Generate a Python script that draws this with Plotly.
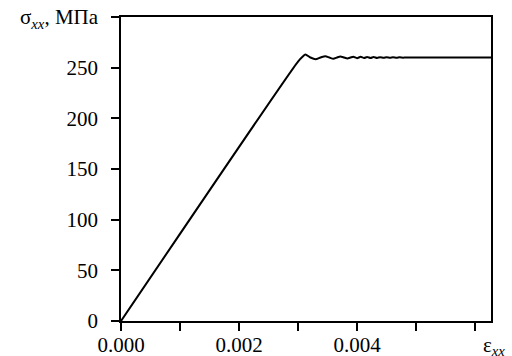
import plotly.graph_objects as go

strain = [0.0, 0.00300, 0.00308, 0.003124, 0.00321, 0.003297, 0.00338, 0.003463,
          0.00353, 0.003598, 0.00366, 0.003717, 0.00378, 0.003836, 0.00389,
          0.003937, 0.00400, 0.00406, 0.00412, 0.00417, 0.00423, 0.00428,
          0.00434, 0.00439, 0.00445, 0.00450, 0.00456, 0.00461, 0.00467,
          0.00472, 0.00478, 0.00482, 0.00627]
stress = [0.0, 256.0, 261.0, 263.0, 260.0, 258.3, 260.0, 261.3,
          260.0, 258.8, 260.0, 261.0, 260.0, 259.1, 260.0,
          260.8, 259.4, 260.7, 259.5, 260.6, 259.6, 260.5,
          259.6, 260.4, 259.7, 260.3, 259.8, 260.2, 259.8,
          260.2, 259.9, 260.0, 260.0]

y_ticks = [0, 50, 100, 150, 200, 250, 300]
y_ticktext = ["0", "50", "100", "150", "200", "250", "σ<sub><i>xx</i></sub>, МПа"]
x_ticks = [0.000, 0.001, 0.002, 0.003, 0.004, 0.005, 0.006]
x_ticktext = ["0.000", "", "0.002", "", "0.004", "", ""]

FONT = "Liberation Serif, serif"
FS = 21

fig = go.Figure()
fig.add_trace(go.Scatter(x=strain, y=stress, mode="lines",
                         line=dict(color="black", width=2, shape="spline", smoothing=0.6),
                         showlegend=False, hoverinfo="skip"))

fig.update_layout(
    template="none",
    width=512, height=356,
    margin=dict(l=121, r=21, t=17, b=35),
    paper_bgcolor="white", plot_bgcolor="white",
    font=dict(family=FONT, size=FS, color="black"),
)
fig.update_xaxes(range=[0, 0.00627], tickmode="array", tickvals=x_ticks, ticktext=x_ticktext,
                 ticks="outside", ticklen=8, tickwidth=1.5, tickcolor="black",
                 showline=True, linecolor="black", linewidth=1.5, mirror=True,
                 showgrid=False, zeroline=False, automargin=False, ticklabelstandoff=-4,
                 tickfont_family=FONT, tickfont_size=FS, tickfont_color="black")
fig.update_yaxes(range=[0, 300], tickmode="array", tickvals=y_ticks, ticktext=y_ticktext,
                 ticks="outside", ticklen=8, tickwidth=1.5, tickcolor="black",
                 showline=True, linecolor="black", linewidth=1.5, mirror=True,
                 showgrid=False, zeroline=False, automargin=False, ticklabelstandoff=9,
                 tickfont_family=FONT, tickfont_size=FS, tickfont_color="black")
fig.add_annotation(text="ε<sub><i>xx</i></sub>", xref="paper", yref="paper",
                   x=1.0, y=0, xanchor="left", yanchor="top", xshift=-10, yshift=-10,
                   showarrow=False, font=dict(family=FONT, size=FS, color="black"))

fig.write_html("out.html")
